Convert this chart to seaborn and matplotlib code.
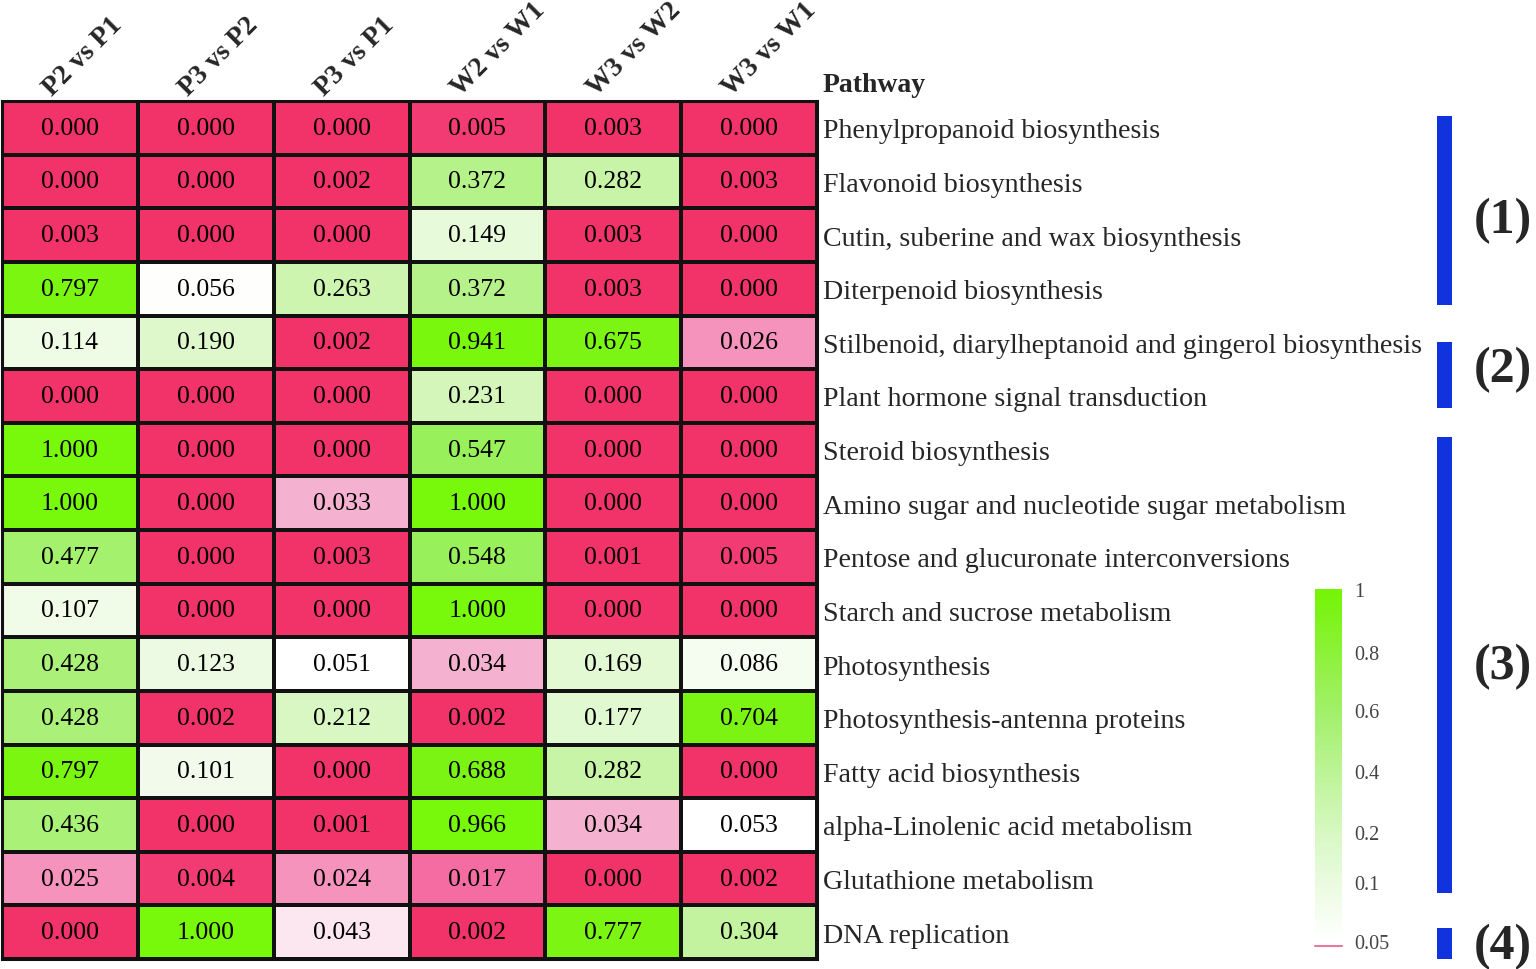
import numpy as np
import pandas as pd
import matplotlib
matplotlib.use("Agg")
import matplotlib.pyplot as plt
import matplotlib.colors as mcolors
from matplotlib.patches import Rectangle
import seaborn as sns

# === data ===
comparisons = ["P2 vs P1", "P3 vs P2", "P3 vs P1", "W2 vs W1", "W3 vs W2", "W3 vs W1"]
pathways = [
    "Phenylpropanoid biosynthesis",
    "Flavonoid biosynthesis",
    "Cutin, suberine and wax biosynthesis",
    "Diterpenoid biosynthesis",
    "Stilbenoid, diarylheptanoid and gingerol biosynthesis",
    "Plant hormone signal transduction",
    "Steroid biosynthesis",
    "Amino sugar and nucleotide sugar metabolism",
    "Pentose and glucuronate interconversions",
    "Starch and sucrose metabolism",
    "Photosynthesis",
    "Photosynthesis-antenna proteins",
    "Fatty acid biosynthesis",
    "alpha-Linolenic acid metabolism",
    "Glutathione metabolism",
    "DNA replication",
]
p2_vs_p1 = [0.000, 0.000, 0.003, 0.797, 0.114, 0.000, 1.000, 1.000, 0.477, 0.107, 0.428, 0.428, 0.797, 0.436, 0.025, 0.000]
p3_vs_p2 = [0.000, 0.000, 0.000, 0.056, 0.190, 0.000, 0.000, 0.000, 0.000, 0.000, 0.123, 0.002, 0.101, 0.000, 0.004, 1.000]
p3_vs_p1 = [0.000, 0.002, 0.000, 0.263, 0.002, 0.000, 0.000, 0.033, 0.003, 0.000, 0.051, 0.212, 0.000, 0.001, 0.024, 0.043]
w2_vs_w1 = [0.005, 0.372, 0.149, 0.372, 0.941, 0.231, 0.547, 1.000, 0.548, 1.000, 0.034, 0.002, 0.688, 0.966, 0.017, 0.002]
w3_vs_w2 = [0.003, 0.282, 0.003, 0.003, 0.675, 0.000, 0.000, 0.000, 0.001, 0.000, 0.169, 0.177, 0.282, 0.034, 0.000, 0.777]
w3_vs_w1 = [0.000, 0.003, 0.000, 0.000, 0.026, 0.000, 0.000, 0.000, 0.005, 0.000, 0.086, 0.704, 0.000, 0.053, 0.002, 0.304]

group_labels = ["(1)", "(2)", "(3)", "(4)"]
cbar_ticks = [0.05, 0.1, 0.2, 0.4, 0.6, 0.8, 1.0]
cbar_ticklabels = ["0.05", "0.1", "0.2", "0.4", "0.6", "0.8", "1"]

df = pd.DataFrame(
    np.column_stack([p2_vs_p1, p3_vs_p2, p3_vs_p1, w2_vs_w1, w3_vs_w2, w3_vs_w1]),
    index=pathways, columns=comparisons,
)

# === colour map: red -> pink below 0.05, white -> green above ===
cmap = mcolors.LinearSegmentedColormap.from_list("pgreen", [
    (0.000, "#F2336A"), (0.003, "#F23870"), (0.006, "#F4437B"),
    (0.017, "#F572A8"), (0.025, "#F59AC2"), (0.034, "#F5BCD6"),
    (0.043, "#FCE6F0"), (0.050, "#FFFFFF"), (0.100, "#F1FBEA"),
    (0.200, "#DCF8C8"), (0.300, "#C4F3A0"), (0.430, "#ABF178"),
    (0.550, "#98F05A"), (0.670, "#7CF414"), (1.000, "#78F80A"),
])

# === plot ===
sns.set_style("white")
plt.rcParams["font.family"] = ["Liberation Serif", "DejaVu Serif"]

fig = plt.figure(figsize=(15.36, 9.70), dpi=100)
ax = fig.add_axes([2 / 1536, 10 / 970, 815 / 1536, 858 / 970])

sns.heatmap(
    df, cmap=cmap, vmin=0, vmax=1, annot=True, fmt=".3f",
    annot_kws={"fontsize": 18.5, "color": "black"},
    linewidths=1.5, linecolor="#111111", cbar=False, ax=ax,
)

# border
for sp in ax.spines.values():
    sp.set_visible(True)
    sp.set_linewidth(2.2)
    sp.set_color("#111111")

# pathway labels on the right
ax.yaxis.tick_right()
ax.set_yticks(np.arange(len(pathways)) + 0.5)
ax.set_yticklabels(pathways, rotation=0, fontsize=20.2, ha="left")
ax.tick_params(axis="y", length=0, pad=4)
ax.set_xticks([])
ax.set_xlabel("")
ax.set_ylabel("")

# column headers
for j, name in enumerate(comparisons):
    ax.text(j + 0.37, -0.09, name, rotation=45, rotation_mode="anchor",
            ha="left", va="baseline", fontsize=20, fontweight="bold")
ax.text(6.04, -0.19, "Pathway", ha="left", va="baseline",
        fontsize=20, fontweight="bold")

# group bars
bar_spans = [(0.28, 3.80), (4.50, 5.73), (6.27, 14.76), (15.43, 16.0)]
label_y = [2.22, 5.0, 10.54, 15.76]
for (top, bottom), lab, ly in zip(bar_spans, group_labels, label_y):
    ax.add_patch(Rectangle((10.565, top), 0.11, bottom - top,
                           color="#1133DD", clip_on=False, lw=0))
    ax.text(11.05, ly, lab, ha="center", va="center",
            fontsize=36, fontweight="bold")

# colour bar with non-linear spacing, gradient fading evenly to white
cb_pos = [0.0, 0.165, 0.304, 0.474, 0.642, 0.804, 0.98]
cb_norm = mcolors.FuncNorm(
    (lambda v: np.interp(v, cbar_ticks, cb_pos),
     lambda u: np.interp(u, cb_pos, cbar_ticks)),
    vmin=0.05, vmax=1.0,
)
cb_cmap = mcolors.LinearSegmentedColormap.from_list(
    "cb", [(0.0, "#FFFFFF"), (0.3, "#D8F8C4"), (0.65, "#A2F06A"), (1.0, "#74F404")])
cax = fig.add_axes([1315 / 1536, 28 / 970, 27 / 1536, 352 / 970])
sm = plt.cm.ScalarMappable(norm=cb_norm, cmap=cb_cmap)
cb = fig.colorbar(sm, cax=cax)
cb.outline.set_visible(False)
cb.set_ticks(cbar_ticks)
cb.set_ticklabels(cbar_ticklabels)
cax.tick_params(length=0, pad=9, labelsize=14.5, labelcolor="#444444")
cax.plot([0, 1], [-0.015, -0.015], transform=cax.transAxes,
         color="#E8789E", lw=1.5, clip_on=False)

fig.savefig("out.png", dpi=100)
plt.close(fig)
